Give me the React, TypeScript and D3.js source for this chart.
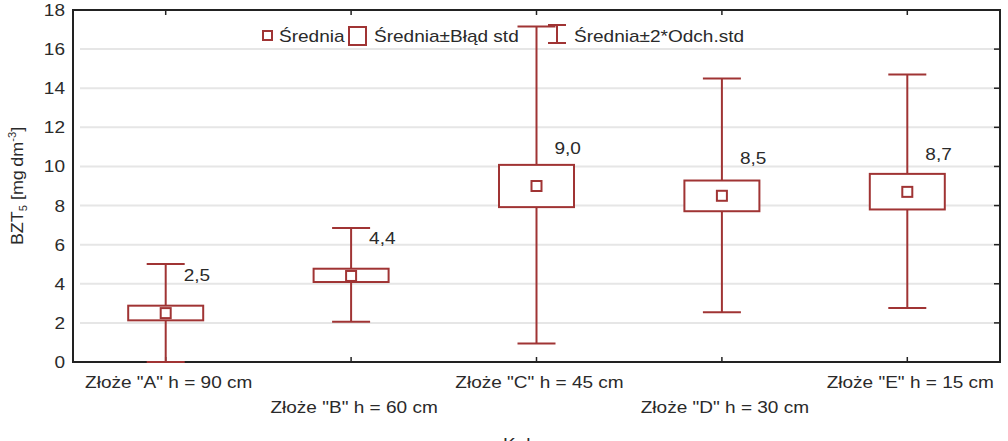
import React from "react";
import * as d3 from "d3";

const categories = [
  'Złoże "A" h = 90 cm',
  'Złoże "B" h = 60 cm',
  'Złoże "C" h = 45 cm',
  'Złoże "D" h = 30 cm',
  'Złoże "E" h = 15 cm',
];
const means = [2.5, 4.4, 9.0, 8.5, 8.7];
const seLow = [2.13, 4.09, 7.92, 7.71, 7.8];
const seHigh = [2.88, 4.77, 10.08, 9.28, 9.62];
const sdLow = [0.0, 2.06, 0.94, 2.55, 2.76];
const sdHigh = [5.01, 6.85, 17.15, 14.5, 14.7];
const meanLabels = ["2,5", "4,4", "9,0", "8,5", "8,7"];
const yTicks = [0, 2, 4, 6, 8, 10, 12, 14, 16, 18];
const legendLabels = ["Średnia", "Średnia±Błąd std", "Średnia±2*Odch.std"];
const xTitle = "Kolumna";

const W = 1008;
const H = 441;
const M = { left: 73, right: 1000, top: 10, bottom: 362 };
const RED = "#a03434";
const FONT = "'Liberation Sans', Arial, sans-serif";
const FS = 17;
const SX = 1.12;
const TXT = "#2a2a2a";

function T(props: { x: number; y: number; anchor?: string; children: any; size?: number }) {
  const { x, y, anchor = "start", children, size = FS } = props;
  return (
    <text
      transform={`translate(${x},${y}) scale(${SX},1)`}
      textAnchor={anchor}
      fontFamily={FONT}
      fontSize={size}
      fill={TXT}
    >
      {children}
    </text>
  );
}

export default function App() {
  const x = d3.scaleBand<string>().domain(categories).range([M.left, M.right]).padding(0);
  const y = d3.scaleLinear().domain([0, 18]).range([M.bottom, M.top]);
  const boxW = 75;
  const capW = 38;
  const mk = 10;

  return (
    <svg width={W} height={H} style={{ position: "absolute", left: 0, top: 0, background: "#fff" }}>
      <rect x={0} y={0} width={W} height={H} fill="#fff" />
      {yTicks.slice(1, -1).map((t) => (
        <line key={t} x1={M.left + 7} x2={M.right} y1={y(t)} y2={y(t)} stroke="#e6e6e6" strokeWidth={2} />
      ))}
      {yTicks.slice(1, -1).map((t) => (
        <line key={"r" + t} x1={M.right - 6} x2={M.right} y1={y(t)} y2={y(t)} stroke="#222" strokeWidth={1.5} />
      ))}
      {categories.map((c) => {
        const cx = x(c)! + x.bandwidth() / 2;
        return (
          <g key={"t" + c}>
            <line x1={cx} x2={cx} y1={M.bottom} y2={M.bottom - 5} stroke="#222" strokeWidth={1.5} />
            <line x1={cx} x2={cx} y1={M.top} y2={M.top + 5} stroke="#222" strokeWidth={1.5} />
          </g>
        );
      })}
      <rect x={M.left} y={M.top} width={M.right - M.left} height={M.bottom - M.top} fill="none" stroke="#222" strokeWidth={2} />
      {yTicks.map((t) => (
        <T key={"yl" + t} x={65} y={y(t) + 6} anchor="end">
          {String(t)}
        </T>
      ))}
      <text
        transform={`translate(23,${(M.top + M.bottom) / 2}) rotate(-90) scale(${SX},1)`}
        textAnchor="middle"
        fontFamily={FONT}
        fontSize={FS - 1}
        fill={TXT}
      >
        BZT<tspan fontSize={10} dy={4}>5</tspan>
        <tspan dy={-4}>{"  [mg\u2009dm"}</tspan>
        <tspan fontSize={10} dy={-7}>-3</tspan>
        <tspan dy={7}>]</tspan>
      </text>
      {categories.map((c, i) => {
        const cx = x(c)! + x.bandwidth() / 2;
        return (
          <g key={"b" + c} stroke={RED} strokeWidth={2} fill="none">
            <line x1={cx} x2={cx} y1={y(sdLow[i])} y2={y(sdHigh[i])} />
            <line x1={cx - capW / 2} x2={cx + capW / 2} y1={y(sdLow[i])} y2={y(sdLow[i])} />
            <line x1={cx - capW / 2} x2={cx + capW / 2} y1={y(sdHigh[i])} y2={y(sdHigh[i])} />
            <rect x={cx - boxW / 2} y={y(seHigh[i])} width={boxW} height={y(seLow[i]) - y(seHigh[i])} fill="#fff" />
            <rect x={cx - mk / 2} y={y(means[i]) - mk / 2} width={mk} height={mk} fill="#fff" />
          </g>
        );
      })}
      {categories.map((c, i) => {
        const cx = x(c)! + x.bandwidth() / 2;
        return (
          <T key={"ml" + c} x={cx + 18} y={y(means[i]) - 32}>
            {meanLabels[i]}
          </T>
        );
      })}
      {categories.map((c, i) => {
        const cx = x(c)! + x.bandwidth() / 2;
        return (
          <T key={"xl" + c} x={cx + 3} y={i % 2 === 0 ? 388 : 413} anchor="middle">
            {c}
          </T>
        );
      })}
      <T x={(M.left + M.right) / 2 + 4} y={450} anchor="middle">
        {xTitle}
      </T>
      <g stroke={RED} strokeWidth={2} fill="#fff">
        <rect x={263} y={31} width={9} height={9} />
        <rect x={349} y={27} width={17} height={18} />
        <line x1={557} x2={557} y1={25} y2={43} />
        <line x1={548} x2={566} y1={25} y2={25} />
        <line x1={548} x2={566} y1={43} y2={43} />
      </g>
      <T x={279} y={42}>{legendLabels[0]}</T>
      <T x={374} y={42}>{legendLabels[1]}</T>
      <T x={574} y={42}>{legendLabels[2]}</T>
    </svg>
  );
}
